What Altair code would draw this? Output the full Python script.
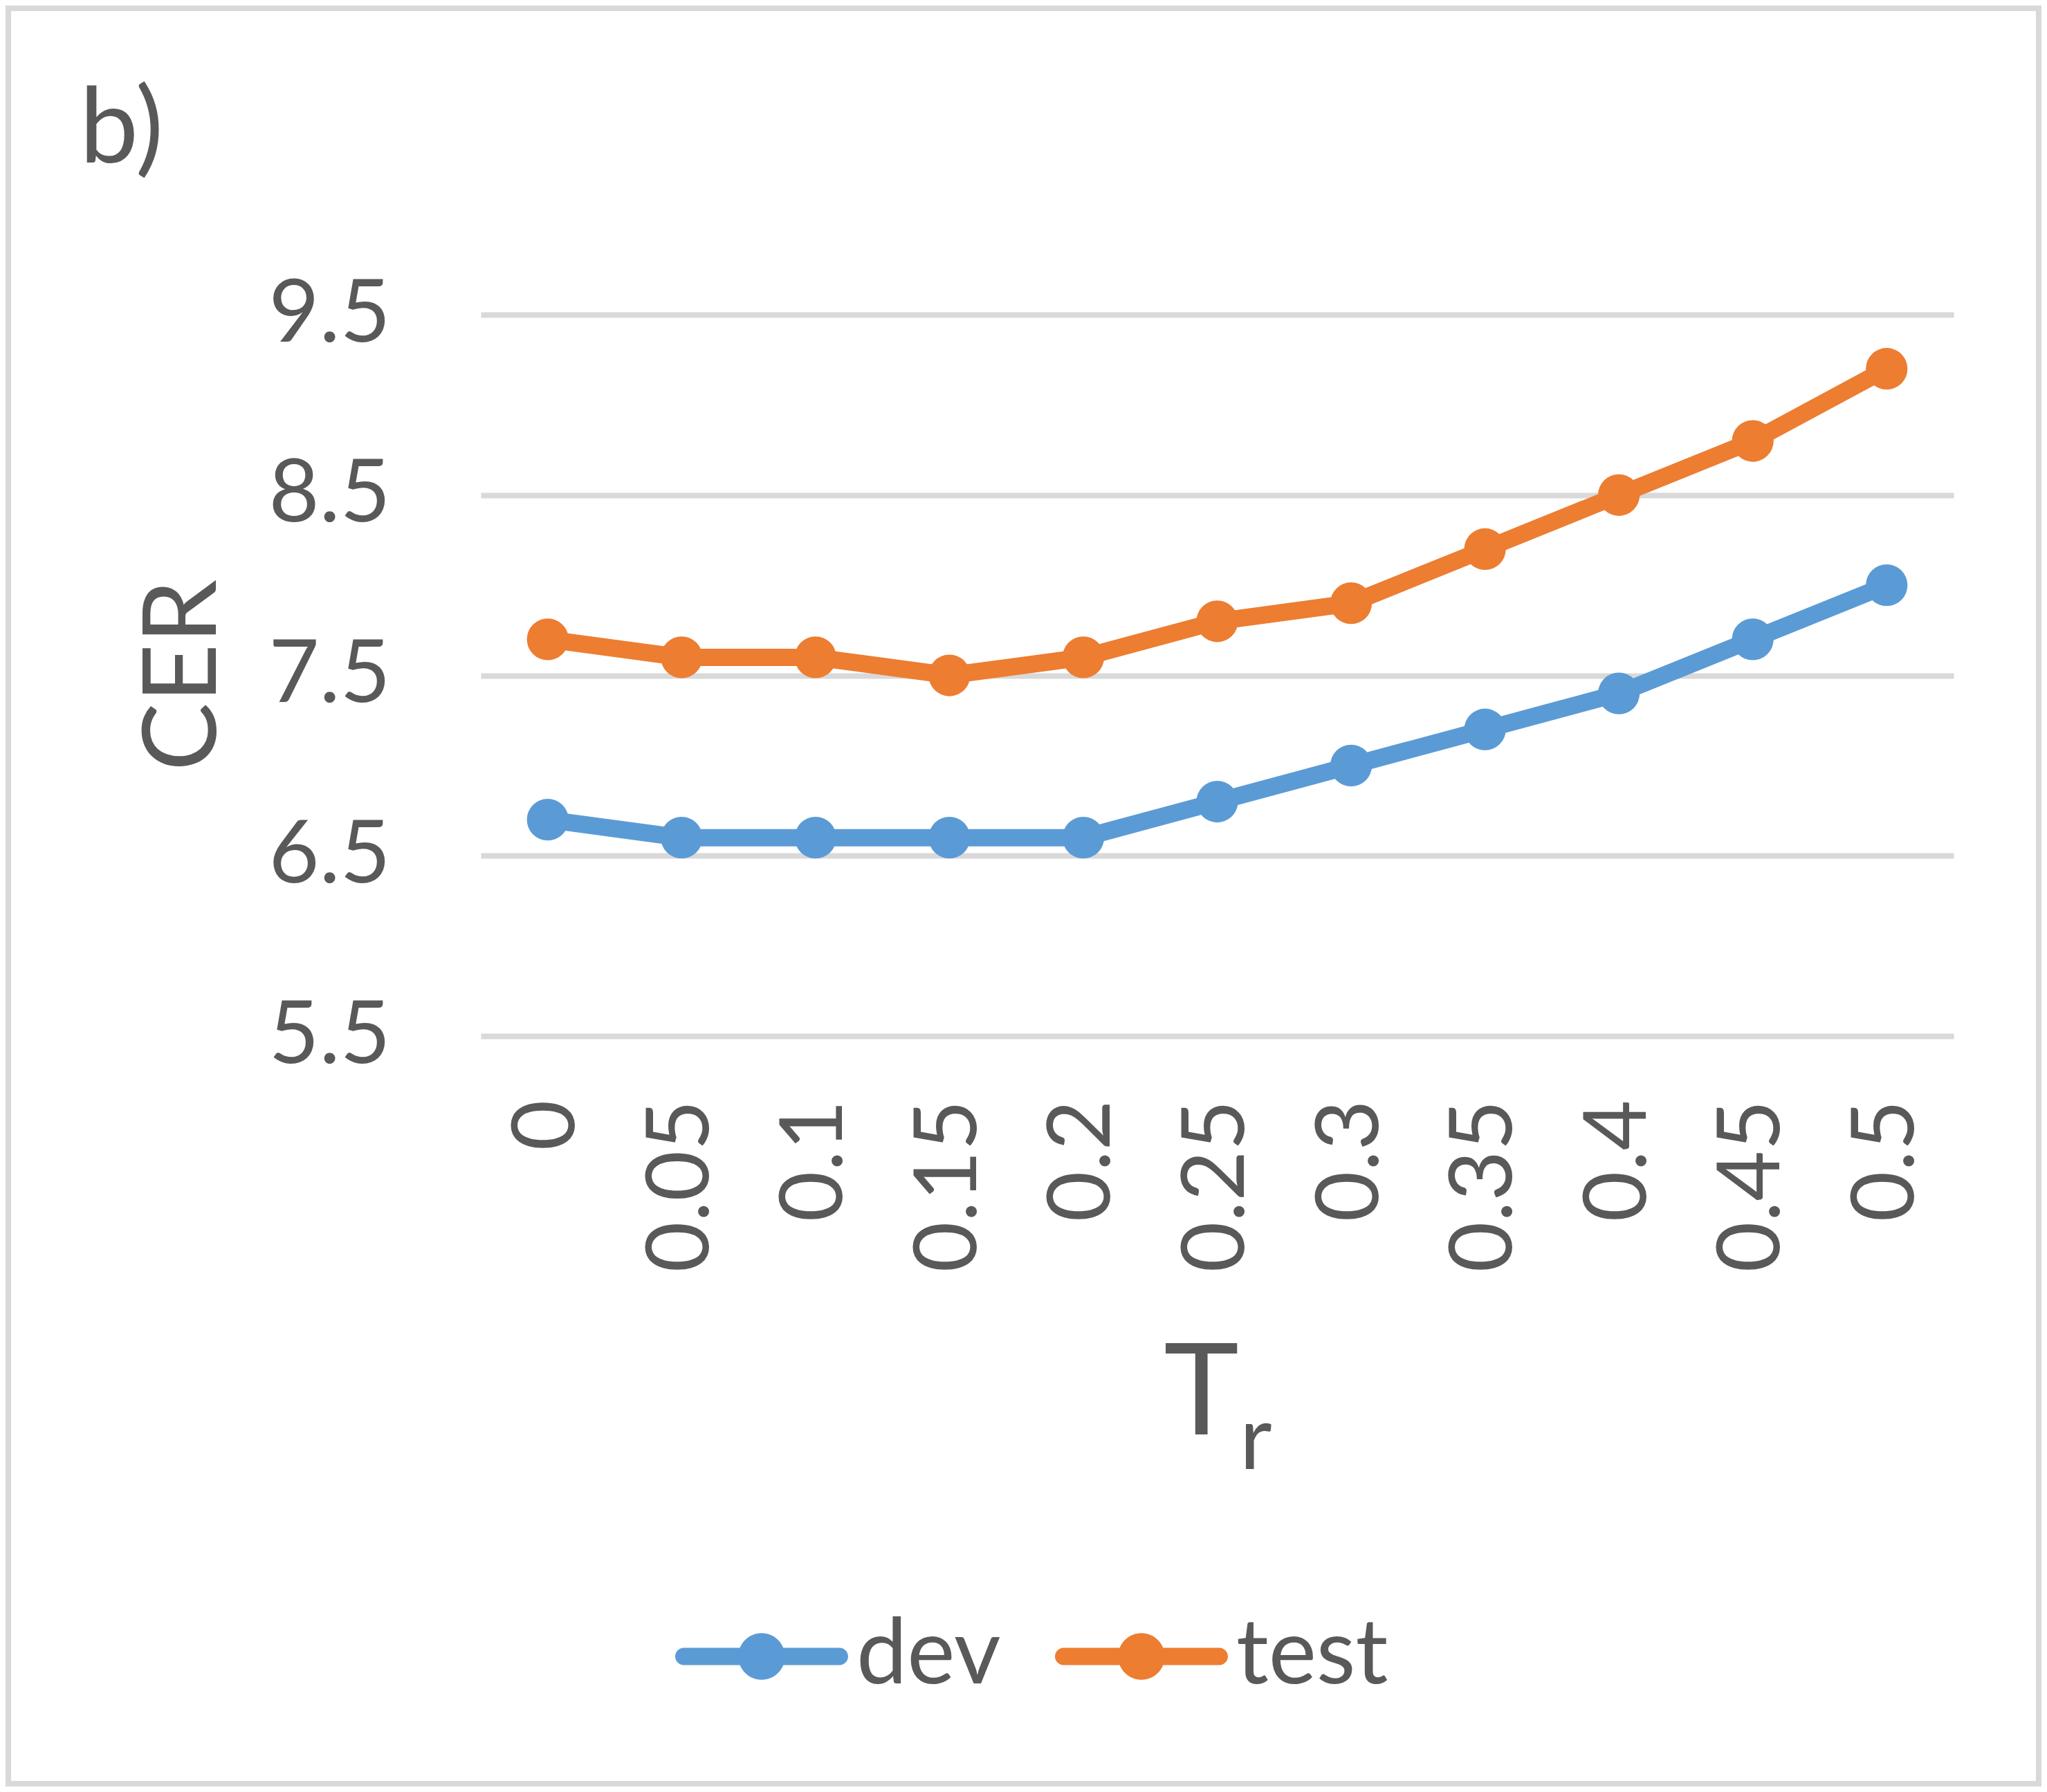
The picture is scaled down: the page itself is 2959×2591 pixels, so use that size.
import altair as alt
import pandas as pd

# ---- data ----
T_LABELS = ["0", "0.05", "0.1", "0.15", "0.2", "0.25", "0.3", "0.35", "0.4", "0.45", "0.5"]
DEV = [6.7, 6.6, 6.6, 6.6, 6.6, 6.8, 7.0, 7.2, 7.4, 7.7, 8.0]
TEST = [7.7, 7.6, 7.6, 7.5, 7.6, 7.8, 7.9, 8.2, 8.5, 8.8, 9.2]
SERIES = ["dev", "test"]
COLORS = ["#5B9BD5", "#ED7D31"]
Y_TICKS = [5.5, 6.5, 7.5, 8.5, 9.5]

rows = [{"Tr": t, "series": "dev", "CER": v} for t, v in zip(T_LABELS, DEV)]
rows += [{"Tr": t, "series": "test", "CER": v} for t, v in zip(T_LABELS, TEST)]
df = pd.DataFrame(rows)

FONT = "Lato"
TEXT = "#595959"
GRID = "#D9D9D9"
W, H = 2129, 1043

x_enc = alt.X(
    "Tr:N",
    sort=T_LABELS,
    scale=alt.Scale(type="point", padding=0.5),
    axis=alt.Axis(
        title="T",
        labelAngle=-90,
        labelFont=FONT,
        labelFontSize=126,
        labelColor=TEXT,
        labelPadding=92,
        labelLimit=2000,
        labelOverlap=False,
        ticks=False,
        domain=False,
        grid=False,
        titleFont=FONT,
        titleFontSize=184,
        titleFontWeight="normal",
        titleColor=TEXT,
        titleX=1041,
        titleY=575,
        titleAlign="center",
        titleBaseline="alphabetic",
        titleAngle=0,
        titleLimit=3000,
    ),
)

y_enc = alt.Y(
    "CER:Q",
    scale=alt.Scale(domain=[5.5, 9.5], nice=False, zero=False),
    axis=alt.Axis(
        values=Y_TICKS,
        format=".1f",
        title="CER",
        titleFont=FONT,
        titleFontSize=148,
        titleFontWeight="normal",
        titleColor=TEXT,
        titleAngle=-90,
        titleX=-384,
        titleY=521,
        titleAlign="center",
        titleBaseline="alphabetic",
        titleLimit=3000,
        labelFont=FONT,
        labelFontSize=126,
        labelColor=TEXT,
        labelPadding=131,
        labelLimit=2000,
        ticks=False,
        domain=False,
        gridColor=GRID,
        gridWidth=8,
    ),
)

LEGEND_PATH = (
    "M-0.9,-0.1 L0.9,-0.1 A0.1,0.1 0 0,1 0.9,0.1 L-0.9,0.1 A0.1,0.1 0 0,1 -0.9,-0.1 Z "
    "M0.27,0 A0.27,0.27 0 1,1 -0.27,0 A0.27,0.27 0 1,1 0.27,0 Z"
)

points = alt.Chart(df).mark_circle(size=3630, opacity=1).encode(
    x=x_enc,
    y=y_enc,
    color=alt.Color(
        "series:N",
        scale=alt.Scale(domain=SERIES, range=COLORS),
        legend=alt.Legend(
            title=None,
            orient="none",
            legendX=281,
            legendY=1815,
            direction="horizontal",
            symbolType=LEGEND_PATH,
            symbolSize=62500,
            symbolStrokeWidth=0,
            symbolOpacity=1,
            labelFont=FONT,
            labelFontSize=131,
            labelColor=TEXT,
            labelOffset=12,
            labelLimit=2000,
            columnPadding=78,
            padding=0,
        ),
    ),
)

lines = alt.Chart(df).mark_line(strokeWidth=25).encode(
    x=x_enc,
    y=y_enc,
    stroke=alt.Stroke("series:N", scale=alt.Scale(domain=SERIES, range=COLORS), legend=None),
)

one = alt.InlineData(values=[{"k": 1}])

frame = alt.Chart(one).mark_rect(
    color=GRID, fillOpacity=0, stroke=GRID, strokeWidth=8
).encode(
    x=alt.value(-683), x2=alt.value(2252), y=alt.value(-443), y2=alt.value(2124)
)

panel_label = alt.Chart(one).mark_text(
    text="b)", font=FONT, fontSize=152, color=TEXT, align="left", baseline="alphabetic"
).encode(x=alt.value(-580), y=alt.value(-220))

subscript = alt.Chart(one).mark_text(
    text="r", font=FONT, fontSize=128, color=TEXT, align="left", baseline="alphabetic"
).encode(x=alt.value(1097), y=alt.value(1669))

chart = (
    alt.layer(frame, panel_label, subscript, points, lines)
    .properties(
        width=W,
        height=H,
        padding={"left": 687, "top": 447, "right": 127, "bottom": 1085},
        autosize=alt.AutoSizeParams(type="none"),
        background="white",
    )
    .configure_view(strokeWidth=0)
)

chart.save("out.html", embed_options={"renderer": "svg", "actions": False})
